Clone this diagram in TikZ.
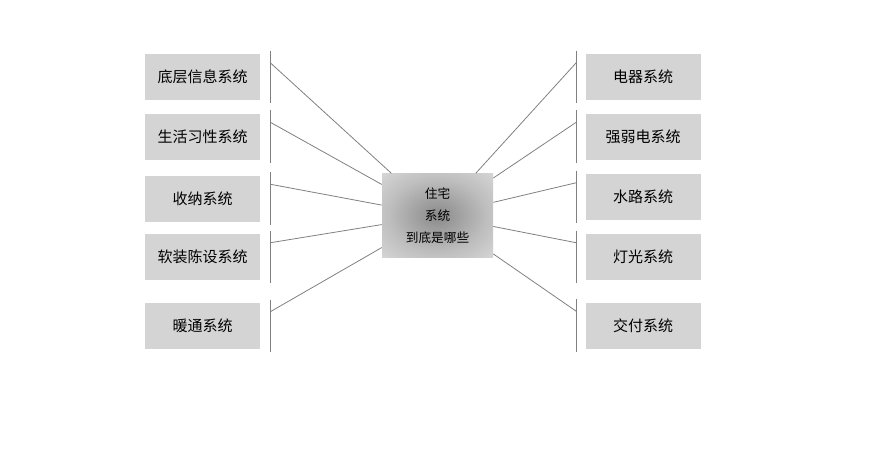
\documentclass[tikz,border=0pt]{standalone}
\usepackage{fontspec}
\newfontfamily\cjk{Noto Sans CJK SC}

\definecolor{boxgray}{RGB}{212,212,212}
\definecolor{linegray}{RGB}{128,128,128}
\definecolor{hubdark}{RGB}{138,138,138}
\definecolor{hubmid}{RGB}{190,190,190}
\definecolor{hublight}{RGB}{214,214,214}
\pgfdeclareradialshading{hubshade}{\pgfpoint{0bp}{0bp}}{%
	color(0bp)=(hubdark); color(22bp)=(hubmid); color(36bp)=(hublight); color(50bp)=(hublight)}

\begin{document}
\begin{tikzpicture}[x=0.75pt,y=-0.75pt,
		sysbox/.style={fill=boxgray, minimum width=86.25pt, minimum height=34.5pt,
			inner sep=0pt, font=\cjk\fontsize{11.25}{13}\selectfont},
		hub/.style={minimum width=83.25pt, minimum height=63pt, inner sep=0pt,
			shading=hubshade, align=center, font=\cjk\fontsize{9.5}{16.5}\selectfont},
		bar/.style={draw=linegray, line width=0.7pt},
		link/.style={draw=linegray, line width=0.6pt}
		]
		\useasboundingbox (0,0) rectangle (880,462);
		% left column
		\node[sysbox] (l1) at (202.5,77) {底层信息系统};
		\node[sysbox] (l2) at (202.5,136.5) {生活习性系统};
		\node[sysbox] (l3) at (202.5,198.5) {收纳系统};
		\node[sysbox] (l4) at (202.5,257) {软装陈设系统};
		\node[sysbox] (l5) at (202.5,326) {暖通系统};
		% right column
		\node[sysbox] (r1) at (643,77) {电器系统};
		\node[sysbox] (r2) at (643,136.5) {强弱电系统};
		\node[sysbox] (r3) at (643,197) {水路系统};
		\node[sysbox] (r4) at (643,257) {灯光系统};
		\node[sysbox] (r5) at (643,325.5) {交付系统};
		% hub
		\node[hub] (hub) at (437.5,215.5) {住宅\\系统\\到底是哪些};
		% bars and links
		\foreach \n in {l1,l2,l3,l4,l5} {
			\draw[bar] ([xshift=7.5pt,yshift=2.25pt]\n.north east)
				-- ([xshift=7.5pt,yshift=-2.25pt]\n.south east);
			\coordinate (\n c) at ([xshift=7.5pt,yshift=-6.75pt]\n.north east);
			\draw[link] (\n c) -- (hub);
		}
		\foreach \n in {r1,r2,r3,r4,r5} {
			\draw[bar] ([xshift=-6.75pt,yshift=2.25pt]\n.north west)
				-- ([xshift=-6.75pt,yshift=-2.25pt]\n.south west);
			\coordinate (\n c) at ([xshift=-6.75pt,yshift=-6.75pt]\n.north west);
			\draw[link] (\n c) -- (hub);
		}
\end{tikzpicture}
\end{document}
